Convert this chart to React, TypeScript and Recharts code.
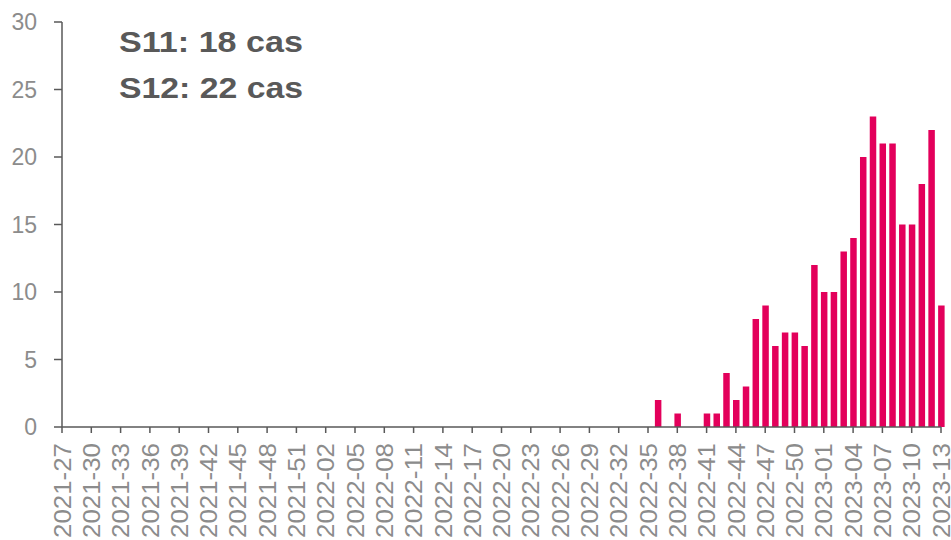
import React from "react";
import { BarChart, Bar, XAxis, YAxis } from "recharts";

const weeks: string[] = [
  "2021-27", "2021-28", "2021-29", "2021-30", "2021-31", "2021-32", "2021-33", "2021-34", "2021-35", "2021-36",
  "2021-37", "2021-38", "2021-39", "2021-40", "2021-41", "2021-42", "2021-43", "2021-44", "2021-45", "2021-46",
  "2021-47", "2021-48", "2021-49", "2021-50", "2021-51", "2021-52",
  "2022-01", "2022-02", "2022-03", "2022-04", "2022-05", "2022-06", "2022-07", "2022-08", "2022-09", "2022-10",
  "2022-11", "2022-12", "2022-13", "2022-14", "2022-15", "2022-16", "2022-17", "2022-18", "2022-19", "2022-20",
  "2022-21", "2022-22", "2022-23", "2022-24", "2022-25", "2022-26", "2022-27", "2022-28", "2022-29", "2022-30",
  "2022-31", "2022-32", "2022-33", "2022-34", "2022-35", "2022-36", "2022-37", "2022-38", "2022-39", "2022-40",
  "2022-41", "2022-42", "2022-43", "2022-44", "2022-45", "2022-46", "2022-47", "2022-48", "2022-49", "2022-50",
  "2022-51", "2022-52",
  "2023-01", "2023-02", "2023-03", "2023-04", "2023-05", "2023-06", "2023-07", "2023-08", "2023-09", "2023-10",
  "2023-11", "2023-12", "2023-13",
];

const cases: number[] = [
  0, 0, 0, 0, 0, 0, 0, 0, 0, 0,
  0, 0, 0, 0, 0, 0, 0, 0, 0, 0,
  0, 0, 0, 0, 0, 0,
  0, 0, 0, 0, 0, 0, 0, 0, 0, 0,
  0, 0, 0, 0, 0, 0, 0, 0, 0, 0,
  0, 0, 0, 0, 0, 0, 0, 0, 0, 0,
  0, 0, 0, 0, 0, 2, 0, 1, 0, 0,
  1, 1, 4, 2, 3, 8, 9, 6, 7, 7,
  6, 12,
  10, 10, 13, 14, 20, 23, 21, 21, 15, 15,
  18, 22, 9,
];

const xTickIdx: number[] = [0, 3, 6, 9, 12, 15, 18, 21, 24, 27, 30, 33, 36, 39, 42, 45, 48, 51, 54, 57, 60, 63, 66, 69, 72, 75, 78, 81, 84, 87, 90];
const yTicks: number[] = [0, 5, 10, 15, 20, 25, 30];
const notes: string[] = ["S11: 18 cas", "S12: 22 cas"];

const data = weeks.map((w, i) => ({ idx: i, week: w, cases: cases[i] }));

const FONT = "'Liberation Sans', Arial, sans-serif";
const AXIS = "#595959";
const LABEL = "#8c8c8c";

const XTick = (props: any) => {
  const { x, y, payload } = props;
  return (
    <g transform={`translate(${x},${y})`}>
      <text
        transform="rotate(-90)"
        textAnchor="end"
        dy="0.36em"
        fill={LABEL}
        fontSize={24}
        fontFamily={FONT}
        textLength={95}
        lengthAdjust="spacingAndGlyphs"
      >
        {weeks[payload.value]}
      </text>
    </g>
  );
};

const YTick = (props: any) => {
  const { x, y, payload } = props;
  return (
    <text x={x} y={y} dy="0.36em" textAnchor="end" fill={LABEL} fontSize={23} fontFamily={FONT}>
      {payload.value}
    </text>
  );
};

export default function App() {
  return (
    <div style={{ position: "absolute", left: 0, top: 0, width: 951, height: 540, background: "#fff" }}>
      <BarChart
        width={951}
        height={540}
        data={data}
        margin={{ top: 22, right: 10, left: 0, bottom: 0 }}
      >
        <XAxis
          dataKey="idx"
          type="number"
          domain={[0, 90]}
          ticks={xTickIdx}
          interval={0}
          height={113}
          tickSize={6}
          tickMargin={10}
          stroke={AXIS}
          strokeWidth={1.5}
          tick={<XTick />}
        />
        <YAxis
          domain={[0, 30]}
          ticks={yTicks}
          width={62}
          tickSize={8}
          tickMargin={17}
          stroke={AXIS}
          strokeWidth={1.5}
          tick={<YTick />}
          allowDecimals={false}
        />
        <Bar dataKey="cases" fill="#E3005B" barSize={6.5} isAnimationActive={false} />
      </BarChart>
      <svg
        width={951}
        height={540}
        style={{ position: "absolute", left: 0, top: 0, pointerEvents: "none" }}
      >
        {notes.map((n, i) => (
          <text
            key={n}
            x={119}
            y={52 + i * 46}
            fill={AXIS}
            fontSize={29}
            fontWeight="bold"
            fontFamily={FONT}
            textLength={184}
            lengthAdjust="spacingAndGlyphs"
          >
            {n}
          </text>
        ))}
      </svg>
    </div>
  );
}
